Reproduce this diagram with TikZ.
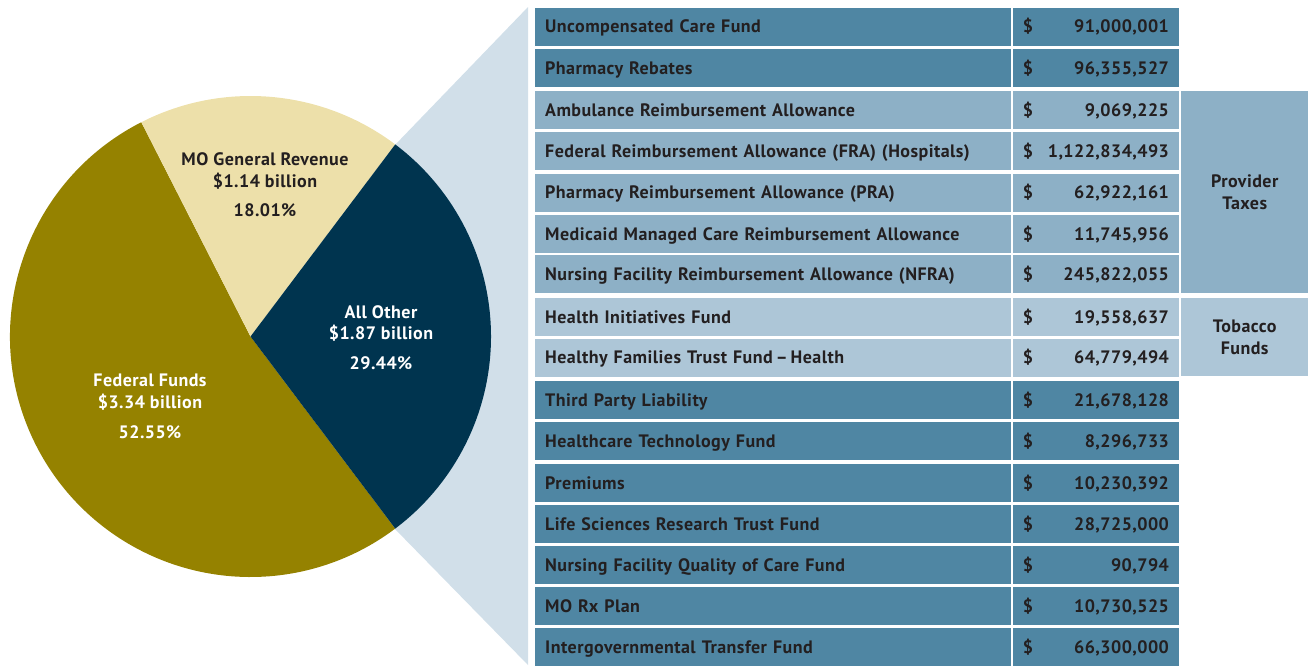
\documentclass[tikz,border=0pt]{standalone}
\usepackage{fontspec}
\setmainfont{PT Sans}[LetterSpace=2.5]
\definecolor{tealrow}{HTML}{4F86A3}
\definecolor{provrow}{HTML}{8DB0C6}
\definecolor{tobrow}{HTML}{ADC6D7}
\definecolor{zoomc}{HTML}{D1DFE9}
\definecolor{olive}{HTML}{958200}
\definecolor{beige}{HTML}{EDE0AA}
\definecolor{navy}{HTML}{00344F}
\definecolor{ink}{HTML}{231F20}
\tikzset{
  txt/.style={font=\fontsize{18}{22}\selectfont\bfseries, text=ink},
  cell/.style={txt, anchor=north west, minimum height=38pt, inner ysep=0pt, text height=12.8pt, text depth=0pt},
  namecell/.style={cell, text width=456pt, inner xsep=10pt, align=left},
  valcell/.style={cell, inner xsep=10pt},
  grpcell/.style={txt, anchor=north west, minimum width=127pt, inner sep=0pt, align=center},
  pielab/.style={txt, inner sep=0pt, text height=12.8pt, text depth=0pt},
}
\begin{document}
\begin{tikzpicture}[x=1pt, y=-1pt]
\useasboundingbox (0,0) rectangle (1314,665);
% zoom wedge
\coordinate (zt) at (394,146);
\coordinate (zb) at (394,528);
\coordinate (rt) at (528,7);
\coordinate (rb) at (528,665);
\fill[zoomc] (zt) -- (rt) -- (rb) -- (zb) -- cycle;
% pie
\begin{scope}[shift={(250.5,336.5)}, yscale=-1]
  \fill[olive] (0,0) -- (117:240.5) arc[start angle=117, end angle=307, radius=240.5] -- cycle;
  \fill[beige] (0,0) -- (53:240.5) arc[start angle=53, end angle=117, radius=240.5] -- cycle;
  \fill[navy] (0,0) -- (-53:240.5) arc[start angle=-53, end angle=53, radius=240.5] -- cycle;
\end{scope}
\node[pielab] (mo1) at (265,159) {MO General Revenue};
\node[pielab] (mo2) at (265,181) {\$1.14 billion};
\node[pielab] (mo3) at (265,210) {18.01\%};
\node[pielab, text=white] (ao1) at (381,312) {All Other};
\node[pielab, text=white] (ao2) at (381,333) {\$1.87 billion};
\node[pielab, text=white] (ao3) at (381,363) {29.44\%};
\node[pielab, text=white] (ff1) at (150,380) {Federal Funds};
\node[pielab, text=white] (ff2) at (150,402) {\$3.34 billion};
\node[pielab, text=white] (ff3) at (150,432) {52.55\%};
% table
\foreach \i/\t/\c/\nm/\val in {
  1/7.3/tealrow/{Uncompensated Care Fund}/{91,000,001},
  2/48.4/tealrow/{Pharmacy Rebates}/{96,355,527},
  3/90.7/provrow/{Ambulance Reimbursement Allowance}/{9,069,225},
  4/132/provrow/{Federal Reimbursement Allowance (FRA) (Hospitals)}/{1,122,834,493},
  5/173.3/provrow/{Pharmacy Reimbursement Allowance (PRA)}/{62,922,161},
  6/214.5/provrow/{Medicaid Managed Care Reimbursement Allowance}/{11,745,956},
  7/255.2/provrow/{Nursing Facility Reimbursement Allowance (NFRA)}/{245,822,055},
  8/297.7/tobrow/{Health Initiatives Fund}/{19,558,637},
  9/338.3/tobrow/{Healthy Families Trust Fund\,–\,Health}/{64,779,494},
  10/381/tealrow/{Third Party Liability}/{21,678,128},
  11/422.2/tealrow/{Healthcare Technology Fund}/{8,296,733},
  12/463.4/tealrow/{Premiums}/{10,230,392},
  13/504.6/tealrow/{Life Sciences Research Trust Fund}/{28,725,000},
  14/545.8/tealrow/{Nursing Facility Quality of Care Fund}/{90,794},
  15/586.5/tealrow/{MO Rx Plan}/{10,730,525},
  16/627.7/tealrow/{Intergovernmental Transfer Fund}/{66,300,000}}{
  \node[namecell, fill=\c] (n\i) at (535,\t) {\nm};
  \node[valcell, fill=\c] (v\i) at (1012.7,\t) {\makebox[146pt]{\$\hfill\val}};
}
\node[grpcell, fill=provrow, minimum height=202pt] (prov) at (1181,90.7) {Provider\\Taxes};
\node[grpcell, fill=tobrow, minimum height=78.3pt] (tob) at (1181,297.7) {Tobacco\\Funds};
\end{tikzpicture}
\end{document}
